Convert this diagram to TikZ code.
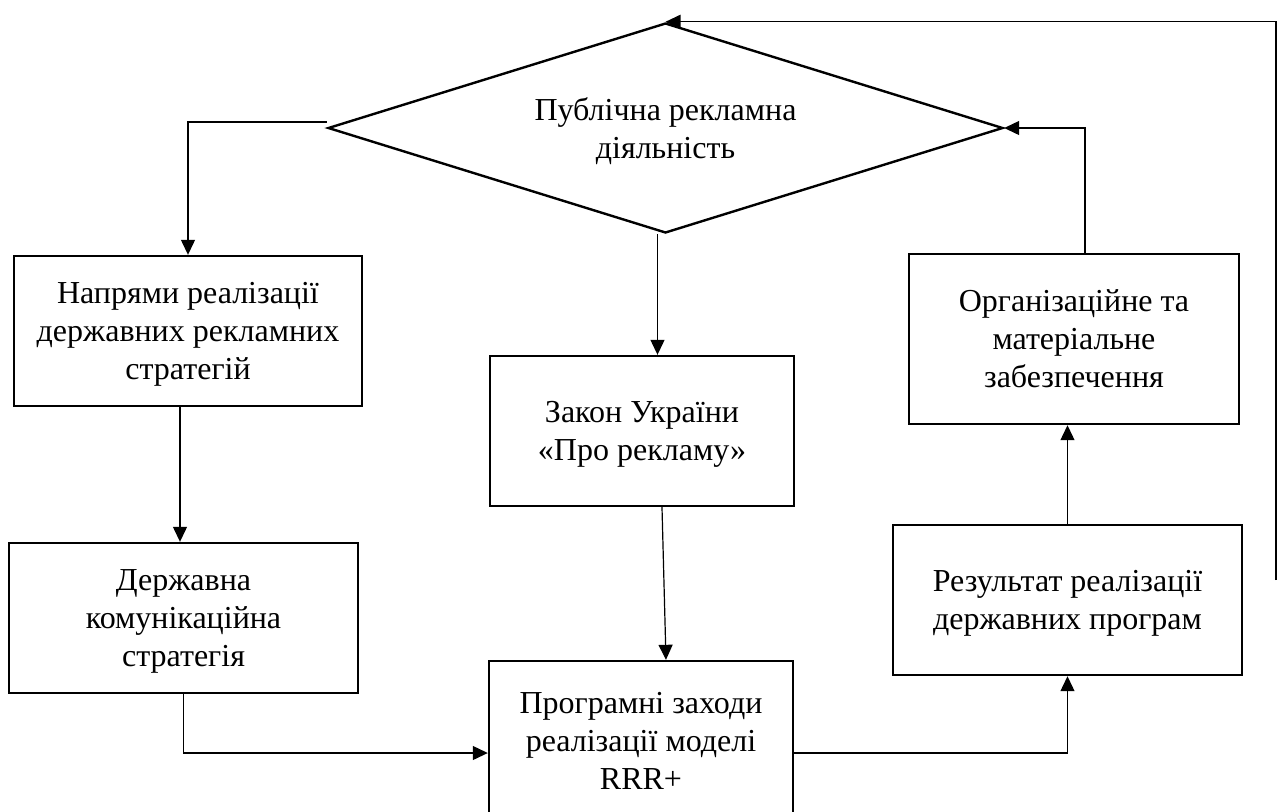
\documentclass[tikz,border=0pt]{standalone}
\usepackage{fontspec}
\setmainfont{Liberation Serif}
\usetikzlibrary{shapes.geometric,arrows.meta}

\begin{document}
\begin{tikzpicture}[x=0.5pt,y=-0.5pt,
    blok/.style={draw=black, line width=1.2pt, rectangle, align=center,
      inner sep=0pt, text depth=-1pt, font=\fontsize{16}{19}\selectfont},
    link/.style={draw=black, line width=0.6pt},
    arr/.style={link, -{Triangle[length=7.5pt,width=7pt]}}]

  \useasboundingbox (0,0) rectangle (1282,811);

  % Decision shape
  \node[blok, diamond, aspect=3.2, minimum width=337.5pt, minimum height=105pt] (dia)
    at (665.5,128) {Публічна рекламна\\діяльність};

	\node[blok, minimum width=174pt, minimum height=75pt] (napr) at (188,331)
	  {Напрями реалізації\\державних рекламних\\стратегій};
	\node[blok, minimum width=174.5pt, minimum height=75pt] (derzh) at (183.5,618)
	  {Державна\\комунікаційна\\стратегія};

	\node[blok, minimum width=152pt, minimum height=75pt] (zakon) at (642,431)
	  {Закон України\\«Про рекламу»};
	\node[blok, minimum width=152pt, minimum height=80pt] (prog) at (641,741)
	  {Програмні заходи\\реалізації моделі\\RRR+};

	\node[blok, minimum width=165pt, minimum height=85pt] (org) at (1074,339)
	  {Організаційне та\\матеріальне\\забезпечення};
	\node[blok, minimum width=174.5pt, minimum height=75pt] (rez) at (1067.5,600)
	  {Результат реалізації\\державних програм};

	\draw[arr] ([yshift=3pt]dia.west) -| (napr.north);
	\draw[arr] ([xshift=-4pt]dia.south) -- ([xshift=-4pt]dia.south |- zakon.north);
	\draw[arr] ([xshift=-4pt]napr.south) -- ([xshift=-4pt]napr.south |- derzh.north);
	\draw[arr] ([xshift=10pt]zakon.south) -- ([xshift=12.5pt]prog.north);
	\draw[arr] (derzh.south) |- ([yshift=-6pt]prog.west);
	\draw[arr] ([yshift=-6pt]prog.east) -| (rez.south);
	\draw[arr] (rez.north) -- (rez.north |- org.south);
	\draw[arr] ([xshift=5.5pt]org.north) |- (dia.east);

	% Feedback line on the right
	\coordinate (back) at (1276,580);
	\draw[arr] (back) |- (dia.north);

\end{tikzpicture}
\end{document}
